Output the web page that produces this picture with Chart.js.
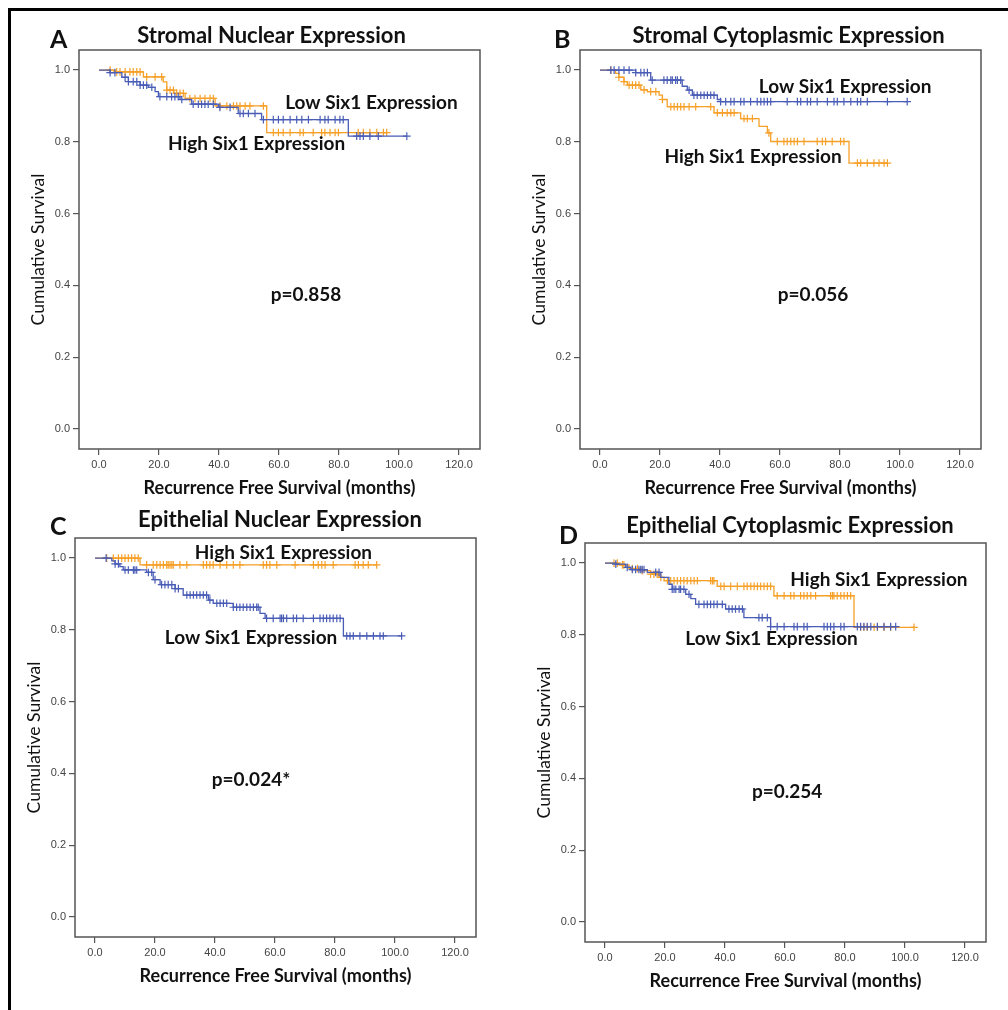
<!DOCTYPE html>
<html>
<head>
<meta charset="utf-8">
<script src="https://cdn.jsdelivr.net/npm/chart.js@4.4.1/dist/chart.umd.min.js"></script>
<style>
  body { margin: 0; background: #fff; width: 1008px; height: 1010px; position: relative; overflow: hidden; }
  #frame { position: absolute; left: 8px; top: 8px; width: 1020px; height: 1020px; border-top: 3px solid #000; border-left: 3px solid #000; }
  canvas { position: absolute; }
</style>
</head>
<body>
<div id="frame"></div>
<canvas id="chartA" width="481" height="509" style="left:9px;top:0px"></canvas>
<canvas id="chartB" width="481" height="509" style="left:510px;top:0px"></canvas>
<canvas id="chartC" width="481" height="509" style="left:5px;top:488px"></canvas>
<canvas id="chartD" width="481" height="509" style="left:515px;top:493px"></canvas>
<script>
const xTicks = [0, 20, 40, 60, 80, 100, 120];
const yTicks = [0, 0.2, 0.4, 0.6, 0.8, 1.0];

// A - stromal nuclear
const aBlueTime = [0, 3.7, 7.6, 9.8, 13.7, 16.4, 18.7, 19.8, 27, 30.9, 39.8, 46.4, 54.2, 83.1];
const aBlueSurv = [1, 0.993, 0.980, 0.968, 0.958, 0.952, 0.940, 0.926, 0.918, 0.905, 0.896, 0.879, 0.862, 0.816];
const aBlueCens = [3.7, 5.3, 8.7, 9.8, 11.4, 12.6, 13.7, 14.8, 15.9, 17.6, 20.3, 22.6, 24.2, 25.3, 26.4, 27.6, 31.4, 33.1, 34.2, 35.3, 36.4, 38.1, 40.3, 43.7, 47, 48.1, 49.8, 52, 54.8, 58.1, 59.8, 61.4, 63.7, 65.9, 67.6, 69.8, 73.7, 75.3, 76.4, 78.7, 80.3, 81.4, 85.9, 87, 88.1, 90.3, 93.1, 102.6];
const aOrangeTime = [0, 5.3, 14.8, 21.4, 22.6, 25, 28.7, 38.7, 55.9];
const aOrangeSurv = [1, 0.995, 0.981, 0.967, 0.944, 0.935, 0.921, 0.900, 0.826];
const aOrangeCens = [3.7, 5.9, 7, 8.7, 10.3, 11.4, 12.6, 13.7, 15.9, 18.7, 20.9, 22.6, 23.7, 24.8, 25.9, 27, 28.1, 30.3, 32, 33.7, 35.3, 37, 38.1, 40.3, 42.6, 44.8, 45.9, 47, 48.7, 50.3, 54.8, 58.1, 59.8, 61.4, 63.7, 67, 68.1, 71.4, 74.2, 75.3, 77, 78.7, 79.8, 86.4, 88.1, 90.3, 92.6, 94.8, 95.9];

// B - stromal cytoplasmic
const bBlueTime = [0, 11.9, 16.9, 27.4, 29.1, 30.8, 39.1, 40.2];
const bBlueSurv = [1, 0.993, 0.972, 0.955, 0.944, 0.930, 0.918, 0.912];
const bBlueCens = [3.6, 4.7, 6.3, 8, 9.7, 11.9, 13.6, 14.7, 15.8, 17.4, 21.3, 22.4, 23.6, 24.1, 25.2, 25.8, 26.9, 29.7, 31.3, 32.4, 33.6, 34.7, 35.8, 36.9, 38, 40.2, 41.9, 43.6, 44.7, 46.9, 48, 50.2, 52.4, 53.6, 54.7, 55.8, 56.9, 62.4, 65.8, 66.9, 69.1, 70.2, 72.4, 75.8, 78, 79.1, 81.3, 83.6, 85.8, 86.9, 89.1, 95.8, 102.4];
const bOrangeTime = [0, 5.2, 6.3, 8, 9.1, 13.6, 15.8, 19.7, 20.8, 22.4, 38, 46.9, 53, 55.8, 56.9, 83];
const bOrangeSurv = [1, 0.991, 0.980, 0.968, 0.958, 0.945, 0.940, 0.930, 0.918, 0.898, 0.881, 0.865, 0.843, 0.825, 0.801, 0.741];
const bOrangeCens = [3.6, 6.3, 8, 9.7, 10.8, 11.9, 13, 14.7, 16.9, 18.6, 20.8, 23.6, 24.7, 25.8, 26.9, 28, 29.7, 31.9, 36.9, 39.1, 40.8, 42.4, 43.6, 44.7, 48, 49.1, 50.8, 56.3, 59.1, 61.3, 62.4, 63.6, 64.7, 65.8, 68, 72.4, 74.1, 75.2, 77.4, 80.2, 81.3, 85.8, 86.9, 89.1, 91.3, 93, 94.7, 95.8];

// C - epithelial nuclear
const cBlueTime = [0, 5.6, 6.7, 8.3, 9.4, 17.2, 19.4, 21.7, 26.7, 29.4, 37.8, 39.4, 46.1, 55, 56.7, 82.8];
const cBlueSurv = [1, 0.992, 0.984, 0.976, 0.967, 0.960, 0.940, 0.926, 0.915, 0.897, 0.883, 0.874, 0.863, 0.846, 0.832, 0.783];
const cBlueCens = [3.7, 6.7, 7.8, 10, 11.1, 12.8, 13.3, 13.9, 17.8, 18.9, 20, 22.2, 23.3, 24.4, 25.6, 26.7, 27.8, 30.6, 31.7, 32.8, 33.9, 35, 36.1, 37.2, 38.3, 40.6, 41.7, 42.8, 43.9, 46.1, 47.2, 48.3, 49.4, 50.6, 51.7, 52.8, 53.9, 54.4, 57.2, 59.4, 61.7, 62.2, 62.8, 63.9, 66.1, 67.2, 69.4, 72.8, 75, 76.1, 77.2, 78.3, 79.4, 80.6, 81.7, 83.9, 85, 86.1, 88.3, 90.6, 92.8, 95, 96.1, 102.2];
const cOrangeTime = [0, 15];
const cOrangeSurv = [1, 0.981];
const cOrangeCens = [3.9, 6.1, 7.8, 8.9, 10, 11.1, 12.2, 13.3, 14.4, 17.2, 19.4, 20.6, 21.7, 22.8, 23.9, 24.4, 25, 25.6, 26.1, 28.3, 30.6, 36.1, 37.2, 38.3, 39.4, 41.7, 43.9, 46.1, 48.3, 56.1, 57.2, 58.3, 60.6, 66.7, 72.8, 74.4, 75.6, 76.7, 79.4, 86.7, 87.8, 89.4, 91.1, 93.9];

// D - epithelial cytoplasmic
const dBlueTime = [0, 3.6, 6.9, 8.6, 14.1, 18.6, 21.3, 22.4, 26.9, 28.6, 30.2, 40.2, 46.3, 55.2];
const dBlueSurv = [1, 0.997, 0.988, 0.982, 0.974, 0.960, 0.941, 0.927, 0.913, 0.901, 0.885, 0.872, 0.848, 0.823];
const dBlueCens = [3.6, 7.4, 9.1, 10.2, 11.3, 11.9, 12.4, 13, 16.9, 18, 22.4, 23, 23.6, 24.7, 25.2, 26.3, 28, 31.3, 33, 34.1, 35.2, 36.3, 37.4, 39.1, 41.3, 42.4, 43.5, 44.7, 45.8, 51.3, 52.4, 54.1, 55.2, 57.4, 59.7, 63, 64.1, 66.3, 67.4, 73, 74.1, 75.2, 76.3, 78.6, 79.7, 84.1, 85.2, 86.3, 87.4, 88.6, 90.8, 93, 95.2, 96.9];
const dOrangeTime = [0, 4.7, 8, 11.9, 15.2, 18, 19.7, 37.4, 56.3, 83];
const dOrangeSurv = [1, 0.995, 0.985, 0.979, 0.969, 0.960, 0.951, 0.935, 0.909, 0.821];
const dOrangeCens = [3, 4.1, 5.8, 6.3, 9.1, 10.8, 12.4, 15.2, 16.3, 17.4, 18.6, 20.8, 21.9, 23, 24.1, 25.2, 26.3, 27.4, 28.6, 29.7, 30.8, 35.2, 35.8, 36.3, 38.6, 39.7, 41.9, 44.1, 46.3, 47.4, 48.6, 49.7, 50.8, 51.9, 53, 54.1, 55.2, 57.4, 59.7, 61.9, 63, 65.2, 66.3, 67.4, 68.6, 70.2, 75.2, 75.8, 76.3, 77.4, 78.6, 79.7, 80.8, 81.9, 85.2, 86.3, 87.4, 89.7, 90.8, 93, 95.2, 103];

const BLUE = '#4a5db6';
const ORANGE = '#f6a028';

function survAt(times, surv, t) {
    let s = surv[0];
    for (let i = 0; i < times.length; i++) {
        if (times[i] <= t) s = surv[i];
    }
    return s;
}

// step line + censor crosses for one group
function kmCurve(times, surv, cens, color) {
    const end = Math.max(...cens);
    const pts = times.map((t, i) => ({x: t, y: surv[i]}));
    pts.push({x: end, y: surv[surv.length - 1]});
    return [{
        data: pts,
        showLine: true,
        stepped: true,
        borderColor: color,
        borderWidth: 1.3,
        pointRadius: 0
    }, {
        data: cens.map(t => ({x: t, y: survAt(times, surv, t)})),
        showLine: false,
        pointStyle: 'cross',
        pointRadius: 3.8,
        borderColor: color,
        borderWidth: 1.2
    }];
}

const kmText = {
    id: 'kmText',
    beforeDatasetsDraw(chart) {
        const {ctx, chartArea: a} = chart;
        ctx.save();
        ctx.strokeStyle = '#555';
        ctx.lineWidth = 1.5;
        ctx.strokeRect(a.left, a.top, a.right - a.left, a.bottom - a.top);
        ctx.restore();
    },
    afterDraw(chart, args, opts) {
        const {ctx, chartArea: a, scales} = chart;
        ctx.save();
        ctx.fillStyle = '#111';
        ctx.textBaseline = 'alphabetic';
        ctx.font = 'bold 25px Lato';
        ctx.textAlign = 'left';
        ctx.fillText(opts.letter, a.left + opts.letterDx, a.top + opts.letterDy);
        ctx.font = 'bold 22px Lato';
        ctx.textAlign = 'center';
        ctx.fillText(opts.title, (a.left + a.right) / 2 + opts.titleDx, a.top + opts.titleDy);
        ctx.textBaseline = 'middle';
        opts.notes.forEach(n => {
            ctx.font = 'bold ' + n.size + 'px Lato';
            ctx.fillText(n.text, scales.x.getPixelForValue(n.x), scales.y.getPixelForValue(n.y));
        });
        ctx.restore();
    }
};

function createChart(id, curves, text) {
    const ctx = document.getElementById(id);
    return new Chart(ctx, {
        type: 'scatter',
        data: {datasets: curves},
        plugins: [kmText],
        options: {
            responsive: false,
            animation: false,
            events: [],
            layout: {padding: {top: 50, right: 10, left: 0, bottom: 0}},
            plugins: {
                legend: {display: false},
                tooltip: {enabled: false},
                kmText: text
            },
            scales: {
                x: {
                    type: 'linear',
                    min: -6.67,
                    max: 127,
                    afterBuildTicks: s => { s.ticks = xTicks.map(v => ({value: v})); },
                    afterFit: s => { s.height = 60; },
                    ticks: {
                        callback: v => v.toFixed(1),
                        font: {family: 'Liberation Sans', size: 11},
                        color: '#444',
                        padding: 3,
                        maxRotation: 0,
                        autoSkip: false
                    },
                    grid: {display: true, drawOnChartArea: false, drawTicks: true, tickLength: 6, color: '#555', lineWidth: 1.2},
                    border: {display: false},
                    title: {
                        display: true,
                        text: 'Recurrence Free Survival (months)',
                        font: {family: 'Lato', size: 18, weight: 'bold'},
                        color: '#111',
                        padding: {top: 0, bottom: 10.2}
                    }
                },
                y: {
                    type: 'linear',
                    min: -0.056,
                    max: 1.056,
                    afterBuildTicks: s => { s.ticks = yTicks.map(v => ({value: v})); },
                    afterFit: s => { s.width = 70; },
                    ticks: {
                        callback: v => v.toFixed(1),
                        font: {family: 'Liberation Sans', size: 11},
                        color: '#444',
                        padding: 3,
                        autoSkip: false
                    },
                    grid: {display: true, drawOnChartArea: false, drawTicks: true, tickLength: 6, color: '#555', lineWidth: 1.2},
                    border: {display: false},
                    title: {
                        display: true,
                        text: 'Cumulative Survival',
                        font: {family: 'Lato', size: 17.5},
                        color: '#111',
                        padding: {top: 19, bottom: 0}
                    }
                }
            }
        }
    });
}

createChart('chartA',
    [...kmCurve(aBlueTime, aBlueSurv, aBlueCens, BLUE), ...kmCurve(aOrangeTime, aOrangeSurv, aOrangeCens, ORANGE)],
    {letter: 'A', letterDx: -29, letterDy: -2, title: 'Stromal Nuclear Expression', titleDx: -8, titleDy: -7,
     notes: [{text: 'Low Six1 Expression', x: 90.8, y: 0.908, size: 19},
             {text: 'High Six1 Expression', x: 52.5, y: 0.794, size: 19},
             {text: 'p=0.858', x: 69, y: 0.373, size: 19}]});

createChart('chartB',
    [...kmCurve(bBlueTime, bBlueSurv, bBlueCens, BLUE), ...kmCurve(bOrangeTime, bOrangeSurv, bOrangeCens, ORANGE)],
    {letter: 'B', letterDx: -26, letterDy: -2, title: 'Stromal Cytoplasmic Expression', titleDx: 8, titleDy: -7,
     notes: [{text: 'Low Six1 Expression', x: 81.7, y: 0.953, size: 19},
             {text: 'High Six1 Expression', x: 51, y: 0.758, size: 19},
             {text: 'p=0.056', x: 71, y: 0.373, size: 19}]});

createChart('chartC',
    [...kmCurve(cBlueTime, cBlueSurv, cBlueCens, BLUE), ...kmCurve(cOrangeTime, cOrangeSurv, cOrangeCens, ORANGE)],
    {letter: 'C', letterDx: -25, letterDy: -3, title: 'Epithelial Nuclear Expression', titleDx: 4.5, titleDy: -11,
     notes: [{text: 'High Six1 Expression', x: 62.8, y: 1.014, size: 19},
             {text: 'Low Six1 Expression', x: 52, y: 0.779, size: 19},
             {text: 'p=0.024*', x: 52, y: 0.383, size: 19}]});

createChart('chartD',
    [...kmCurve(dBlueTime, dBlueSurv, dBlueCens, BLUE), ...kmCurve(dOrangeTime, dOrangeSurv, dOrangeCens, ORANGE)],
    {letter: 'D', letterDx: -26, letterDy: 1, title: 'Epithelial Cytoplasmic Expression', titleDx: 4.5, titleDy: -10,
     notes: [{text: 'High Six1 Expression', x: 91.3, y: 0.953, size: 19},
             {text: 'Low Six1 Expression', x: 55.5, y: 0.788, size: 19},
             {text: 'p=0.254', x: 60.7, y: 0.362, size: 19}]});
</script>
</body>
</html>
